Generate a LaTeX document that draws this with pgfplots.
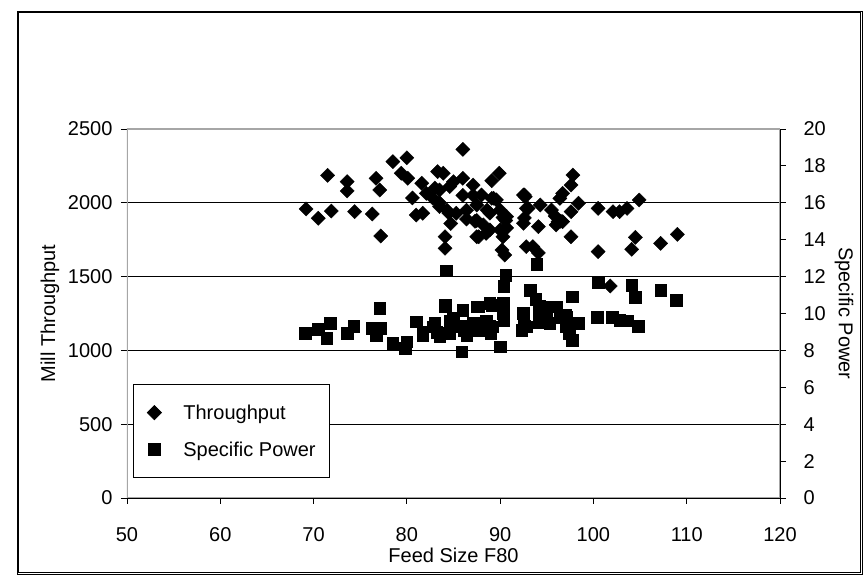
\documentclass[border=0pt]{standalone}
\usepackage{pgfplots}
\pgfplotsset{compat=1.18}
\usepackage{fontspec}
\setmainfont{Liberation Sans}

\pgfplotstableread{
x y
69.2 1958
70.5 1895
71.9 1944
71.5 2186
73.6 2143
73.6 2080
74.4 1940
76.7 2166
77.1 2087
76.3 1924
77.2 1775
78.5 2279
80.0 2305
79.4 2200
80.1 2166
81.6 2132
80.6 2033
81.0 1917
83.3 2211
83.0 2100
84.1 1770
84.1 1692
83.5 1974
86.0 2362
89.9 2200
89.1 2150
87.1 2120
85.0 2143
86.0 2166
83.9 2200
88.0 2053
89.3 2031
92.6 2053
92.8 1962
94.3 1985
95.5 1951
97.8 2188
97.6 2120
96.7 2064
96.4 2030
98.4 1997
97.6 1940
100.5 1962
102.1 1940
102.8 1940
103.6 1962
104.9 2019
92.6 1897
94.1 1838
96.0 1850
96.5 1875
97.6 1770
93.5 1703
94.1 1660
100.5 1669
104.5 1766
104.1 1685
107.2 1725
109.0 1786
101.8 1436
90.5 1646
90.2 1680
90.3 1770
90.3 1810
90.6 1880
88.5 1793
87.7 1770
84.7 1860
84.5 1930
86.4 1890
87.3 1875
88.9 1930
82.1 2064
82.8 2030
83.5 2087
84.6 2110
86.0 2050
87.1 2050
89.1 2030
89.6 2020
81.7 1929
83.5 2000
84.3 1950
85.3 1929
86.4 1950
87.5 1985
88.6 1950
90.0 1950
90.7 1906
87.5 1880
88.2 1850
88.9 1816
90.0 1816
87.5 1770
90.7 1830
92.5 2053
92.5 1861
92.8 1703
92.7 2041
93.0 1962
96.2 1872
96.7 1872
95.9 1910
90.3 1900
}\throughput

\pgfplotstableread{
x y
69.1 8.93
70.5 9.14
71.4 8.65
71.8 9.47
73.6 8.93
74.3 9.32
76.3 9.20
76.7 8.83
77.1 10.28
77.2 9.20
78.5 8.38
80.0 8.47
79.8 8.11
81.0 9.56
81.7 9.01
83.0 9.47
83.2 9.00
84.1 10.37
84.2 12.32
90.6 12.09
90.4 11.49
93.9 12.68
93.2 11.27
93.8 10.77
94.2 10.40
85.9 7.93
90.0 8.20
90.3 10.55
88.9 10.55
87.5 10.37
86.0 10.19
83.5 8.74
84.6 8.93
86.4 8.83
87.8 9.10
89.2 9.28
88.5 9.60
87.1 9.50
85.8 9.30
84.6 9.60
90.3 10.01
92.5 10.01
92.8 9.28
92.3 9.10
94.2 9.50
100.5 11.67
104.1 11.54
104.5 10.88
107.2 11.27
108.9 10.73
100.4 9.79
102.0 9.79
102.8 9.65
103.6 9.61
104.8 9.32
97.7 10.91
97.7 8.56
98.4 9.47
97.1 9.28
96.0 10.37
95.3 9.47
94.6 10.37
95.0 9.80
96.4 9.80
97.1 9.80
97.4 8.90
94.2 10.00
97.0 9.90
97.8 9.47
98.3 9.47
86.1 9.10
87.5 9.10
88.8 9.30
90.4 9.60
89.1 10.46
87.7 10.37
85.0 9.75
82.8 9.28
81.7 8.83
84.1 8.93
84.1 10.46
92.6 9.30
89.0 8.90
}\specpower

\begin{document}
\begin{tikzpicture}[x=1pt,y=1pt]
\useasboundingbox (-127,-77) rectangle (738,498);
\draw[black, line width=0.8pt] (-110,-76) rectangle (735,487);
\draw[black, line width=0.8pt] (-108.5,-74.5) rectangle (733.5,485.5);

\pgfplotsset{
  common/.style={
    at={(0,0)}, anchor=south west,
    scale only axis, width=653pt, height=369pt,
    xmin=50, xmax=120,
    font=\fontsize{20}{24}\selectfont,
    tick align=outside, major tick length=6pt,
    tick style={black, line width=0.8pt},
    axis line style={black, line width=0.8pt},
    /pgf/number format/assume math mode=true,
  }
}

\begin{axis}[common,
  axis x line*=bottom, axis y line*=left,
  ymin=0, ymax=2500,
  xtick={50,60,...,120},
  ytick={0,500,...,2500},
  /pgf/number format/1000 sep={},
  xticklabel style={yshift=-20pt},
  yticklabel style={xshift=-5pt},
  ymajorgrids, grid style={black, line width=0.8pt},
  xlabel={Feed Size F80}, ylabel={Mill Throughput},
  every axis x label/.style={at={(axis description cs:0.5,-0.155)}, anchor=center},
  every axis y label/.style={at={(axis description cs:-0.118,0.5)}, anchor=center, rotate=90},
]
\draw[gray!70, line width=2pt] (rel axis cs:0,0) rectangle (rel axis cs:1,1);
\addplot[only marks, mark=square*, mark size=5pt, mark options={rotate=45, fill=black, draw=black}] table {\throughput};
\end{axis}

\begin{axis}[common,
  axis x line=none, axis y line*=right,
  ymin=0, ymax=20,
  ytick={0,2,...,20},
  yticklabel style={xshift=14pt},
  ylabel={Specific Power},
  every axis y label/.style={at={(axis description cs:1.098,0.5)}, anchor=center, rotate=-90},
  legend cell align=left,
  legend style={at={(axis description cs:0.0092,0.054)}, anchor=south west,
    draw=black, line width=0.8pt, fill=white,
    inner xsep=12pt, inner ysep=18pt, row sep=17pt,
    font=\fontsize{20}{24}\selectfont},
  legend image code/.code={\path[draw=none, fill=none] (0pt,-6pt) rectangle (36pt,6pt); \draw[#1] plot coordinates {(9pt,0pt)};},
]
\addlegendimage{only marks, mark=square*, mark size=5pt, mark options={rotate=45, fill=black, draw=black}}
\addlegendentry{Throughput}
\addplot[only marks, mark=square*, mark size=5.8pt, mark options={fill=black, draw=black}] table {\specpower};
\addlegendentry{Specific Power}
\end{axis}
\end{tikzpicture}
\end{document}
